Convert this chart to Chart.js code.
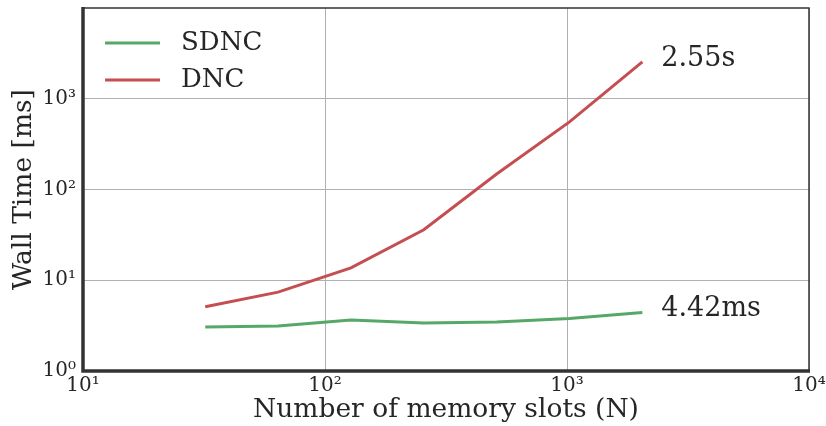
<!DOCTYPE html>
<html>
<head>
<meta charset="utf-8">
<script src="https://cdn.jsdelivr.net/npm/chart.js@4/dist/chart.umd.min.js"></script>
<style>
  html, body { margin: 0; padding: 0; background: #fff; }
  #wrap { width: 826px; height: 426px; }
</style>
</head>
<body>
<div id="wrap"><canvas id="timeChart"></canvas></div>
<script>
// memory slots (N) and wall time in ms
var slots = [32, 64, 128, 256, 512, 1024, 2048];
var sdnc_ms = [3.06, 3.13, 3.65, 3.38, 3.46, 3.79, 4.42];
var dnc_ms = [5.1, 7.4, 13.7, 36, 148, 556, 2550];
var end_labels = ["4.42ms", "2.55s"];
var x_ticks = [10, 100, 1000, 10000];
var y_ticks = [1, 10, 100, 1000];

var supers = {"0": "\u2070", "1": "\u00b9", "2": "\u00b2", "3": "\u00b3", "4": "\u2074"};
function powLabel(v) {
    var e = Math.round(Math.log10(v));
    return "10" + supers[String(e)];
}

var serif = "'DejaVu Serif', serif";
var green = "#55a868";
var red = "#c44e52";

// legend in the top left corner + end-of-line labels
var annotatePlugin = {
    id: 'annotate',
    afterDatasetsDraw: function(chart) {
        var ctx = chart.ctx;
        var area = chart.chartArea;
        ctx.save();
        ctx.textBaseline = "middle";
        ctx.textAlign = "left";
        chart.data.datasets.forEach(function(ds, i) {
            var ly = area.top + 35 + i * 37;
            ctx.strokeStyle = ds.borderColor;
            ctx.lineWidth = 3;
            ctx.beginPath();
            ctx.moveTo(area.left + 22, ly);
            ctx.lineTo(area.left + 77, ly);
            ctx.stroke();
            ctx.fillStyle = "#262626";
            ctx.font = "26px " + serif;
            ctx.fillText(ds.label, area.left + 98, ly);

            var meta = chart.getDatasetMeta(i);
            var last = meta.data[meta.data.length - 1];
            ctx.font = "27px " + serif;
            ctx.fillText(end_labels[i], last.x + 19, last.y - 3);
        });
        ctx.restore();
    }
};

// thick left/bottom spine, thin top/right
var framePlugin = {
    id: 'frame',
    afterDraw: function(chart) {
        var ctx = chart.ctx;
        var a = chart.chartArea;
        ctx.save();
        ctx.strokeStyle = "#333333";
        ctx.lineWidth = 1.5;
        ctx.beginPath();
        ctx.moveTo(a.left, a.top);
        ctx.lineTo(a.right, a.top);
        ctx.lineTo(a.right, a.bottom);
        ctx.stroke();
        ctx.lineWidth = 3.5;
        ctx.beginPath();
        ctx.moveTo(a.left, a.top - 1);
        ctx.lineTo(a.left, a.bottom);
        ctx.lineTo(a.right + 1, a.bottom);
        ctx.stroke();
        ctx.restore();
    }
};

var ctxTime = document.getElementById("timeChart").getContext('2d');
var timeChart = new Chart(ctxTime, {
    type: 'line',
    data: {
        datasets: [{
            label: 'SDNC',
            data: slots.map(function(n, i) { return {x: n, y: sdnc_ms[i]}; }),
            borderColor: green,
            borderWidth: 3,
            pointRadius: 0,
            fill: false
        },
        {
            label: 'DNC',
            data: slots.map(function(n, i) { return {x: n, y: dnc_ms[i]}; }),
            borderColor: red,
            borderWidth: 3,
            pointRadius: 0,
            fill: false
        }]
    },
    options: {
        responsive: true,
        maintainAspectRatio: false,
        animation: false,
        layout: { padding: { left: 0, right: 17, top: 8, bottom: 0 } },
        plugins: {
            legend: { display: false },
            tooltip: { enabled: false }
        },
        scales: {
            x: {
                type: 'logarithmic',
                min: 10,
                max: 10000,
                afterBuildTicks: function(axis) {
                    axis.ticks = x_ticks.map(function(v) { return {value: v}; });
                },
                afterFit: function(axis) {
                    axis.height = 55;
                    axis.paddingRight = 0;
                    axis.paddingLeft = 0;
                },
                ticks: {
                    autoSkip: false,
                    maxRotation: 0,
                    padding: 3,
                    color: "#262626",
                    font: { family: serif, size: 20 },
                    callback: function(v) { return powLabel(v); }
                },
                grid: { color: "#b0b0b0", lineWidth: 1, drawTicks: false },
                border: { display: false },
                title: {
                    display: true,
                    text: 'Number of memory slots (N)',
                    color: "#262626",
                    font: { family: serif, size: 26.5 },
                    padding: { top: 2, bottom: 0 }
                }
            },
            y: {
                type: 'logarithmic',
                min: 1,
                max: 10000,
                afterBuildTicks: function(axis) {
                    axis.ticks = y_ticks.map(function(v) { return {value: v}; });
                },
                afterFit: function(axis) {
                    axis.width = 83;
                    axis.paddingTop = 0;
                    axis.paddingBottom = 0;
                },
                ticks: {
                    autoSkip: false,
                    padding: 7,
                    color: "#262626",
                    font: { family: serif, size: 20 },
                    callback: function(v) { return powLabel(v); }
                },
                grid: { color: "#b0b0b0", lineWidth: 1, drawTicks: false },
                border: { display: false },
                title: {
                    display: true,
                    text: 'Wall Time [ms]',
                    color: "#262626",
                    font: { family: serif, size: 26.5 },
                    padding: { top: 8, bottom: 0 }
                }
            }
        }
    },
    plugins: [annotatePlugin, framePlugin]
});
</script>
</body>
</html>
